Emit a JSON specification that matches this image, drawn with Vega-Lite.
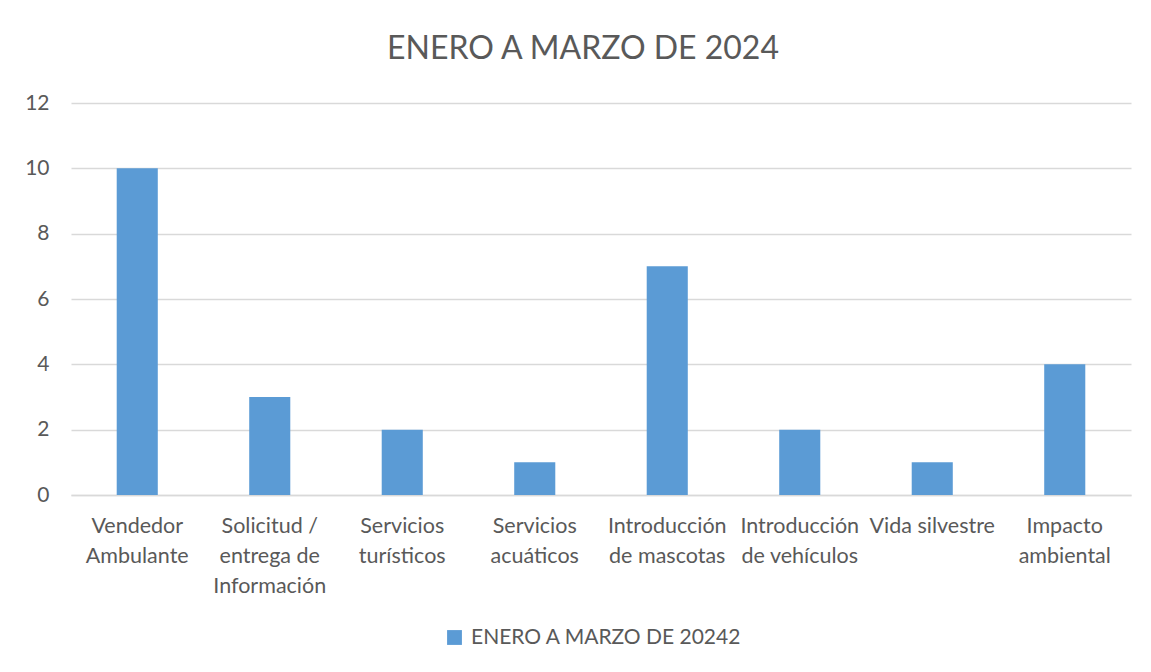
{
  "$schema": "https://vega.github.io/schema/vega-lite/v6.json",
  "width": 1060,
  "height": 392,
  "padding": {"left": 24, "top": 33, "right": 21, "bottom": 20},
  "background": "white",
  "title": {"text": "ENERO A MARZO DE 2024", "fontSize": 32, "font": "Lato", "fontWeight": "normal", "color": "#595959", "offset": 26, "anchor": "middle", "dx": -18},
  "data": {"values": [
    {"categoria": "Vendedor Ambulante", "valor": 10, "serie": "ENERO A MARZO DE 20242"},
    {"categoria": "Solicitud / entrega de Información", "valor": 3, "serie": "ENERO A MARZO DE 20242"},
    {"categoria": "Servicios turísticos", "valor": 2, "serie": "ENERO A MARZO DE 20242"},
    {"categoria": "Servicios acuáticos", "valor": 1, "serie": "ENERO A MARZO DE 20242"},
    {"categoria": "Introducción de mascotas", "valor": 7, "serie": "ENERO A MARZO DE 20242"},
    {"categoria": "Introducción de vehículos", "valor": 2, "serie": "ENERO A MARZO DE 20242"},
    {"categoria": "Vida silvestre", "valor": 1, "serie": "ENERO A MARZO DE 20242"},
    {"categoria": "Impacto ambiental", "valor": 4, "serie": "ENERO A MARZO DE 20242"}
  ]},
  "mark": {"type": "bar"},
  "encoding": {
    "x": {
      "field": "categoria", "type": "nominal", "sort": null,
      "scale": {"paddingInner": 0.69, "paddingOuter": 0.345},
      "axis": {
        "title": null, "labelAngle": 0, "ticks": false, "domain": true, "domainColor": "#D9D9D9", "domainWidth": 1.5,
        "labelPadding": 20, "labelFontSize": 21.5, "labelLineHeight": 30, "labelFont": "Lato", "labelColor": "#595959",
        "labelLimit": 200,
        "labelExpr": "datum.value == 'Vida silvestre' ? datum.value : indexof(datum.value, 'Introducción') == 0 ? ['Introducción', substring(datum.value, 13)] : indexof(datum.value, 'Solicitud') == 0 ? ['Solicitud /', 'entrega de', 'Información'] : split(datum.value, ' ')"
      }
    },
    "y": {
      "field": "valor", "type": "quantitative",
      "scale": {"domain": [0, 12]},
      "axis": {
        "title": null, "values": [0, 2, 4, 6, 8, 10, 12], "ticks": false, "domain": false,
        "grid": true, "gridColor": "#D9D9D9", "gridWidth": 1.5,
        "labelPadding": 22, "labelFontSize": 21, "labelFont": "Lato", "labelColor": "#595959"
      }
    },
    "color": {
      "field": "serie", "type": "nominal",
      "scale": {"range": ["#5B9BD5"]},
      "legend": {
        "title": null, "orient": "none", "legendX": 373, "legendY": 524, "direction": "horizontal", "symbolType": "square", "symbolSize": 220,
        "labelFontSize": 21, "labelFont": "Lato", "labelColor": "#595959", "labelLimit": 400, "labelOffset": 6, "symbolOpacity": 1
      }
    }
  },
  "config": {"view": {"stroke": null}}
}
